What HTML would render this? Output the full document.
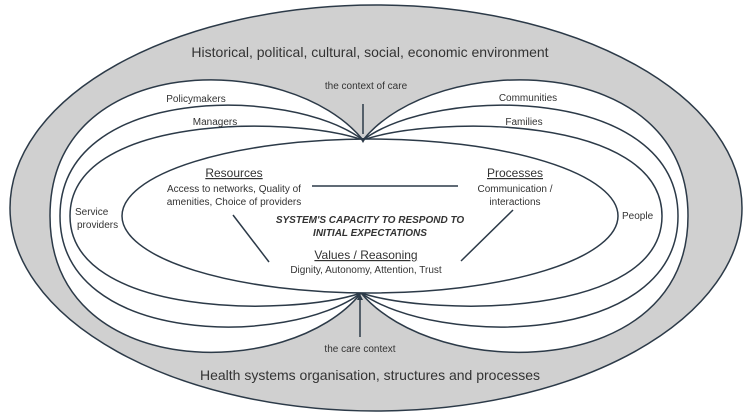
<!DOCTYPE html>
<html><head><meta charset="utf-8"><style>
html,body{margin:0;padding:0;background:#fff}
svg{display:block}
text{font-family:"Liberation Sans",sans-serif;fill:#333}
</style></head><body>
<svg width="748" height="414" viewBox="0 0 748 414" xmlns="http://www.w3.org/2000/svg">
<ellipse cx="376" cy="208" rx="366" ry="203" fill="#d0d0d0" stroke="#2c3a48" stroke-width="1.5"/>
<g fill="#fff" stroke="#2c3a48" stroke-width="1.5">
<path d="M363,140 C290,50 50,50 50,216 C50,382 290,382 361,293 Z"/>
<path d="M363,140 C436,50 688,50 688,216 C688,382 436,382 361,293 Z"/>
<path d="M363,140 C290,85 60,85 60,216 C60,347 290,347 361,293 Z"/>
<path d="M363,140 C436,85 678,85 678,216 C678,347 436,347 361,293 Z"/>
<path d="M363,140 C290,115 70,115 70,216 C70,317 290,317 361,293 Z"/>
<path d="M363,140 C436,115 662,115 662,216 C662,317 436,317 361,293 Z"/>
<ellipse cx="370" cy="216" rx="248" ry="77"/>
</g>
<g stroke="#2c3a48" stroke-width="1.5">
<line x1="312" y1="186" x2="458" y2="186"/>
<line x1="233" y1="215" x2="269" y2="262"/>
<line x1="513" y1="210" x2="461" y2="261"/>
<line x1="363" y1="104" x2="363" y2="134"/>
<line x1="360" y1="337" x2="360" y2="300"/>
</g>
<path d="M360,138 L366,138 L363,143 Z" fill="#2c3a48"/>
<path d="M357,300 L363,300 L360,294 Z" fill="#2c3a48"/>
<text x="370" y="57" font-size="14" text-anchor="middle">Historical, political, cultural, social, economic environment</text>
<text x="370" y="380" font-size="14" text-anchor="middle">Health systems organisation, structures and processes</text>
<text x="366" y="89" font-size="10" text-anchor="middle">the context of care</text>
<text x="360" y="352" font-size="10" text-anchor="middle">the care context</text>
<text x="196" y="102" font-size="10" text-anchor="middle">Policymakers</text>
<text x="215" y="125" font-size="10" text-anchor="middle">Managers</text>
<text x="528" y="101" font-size="10" text-anchor="middle">Communities</text>
<text x="524" y="125" font-size="10" text-anchor="middle">Families</text>
<text x="75" y="215" font-size="10">Service</text>
<text x="77" y="228" font-size="10">providers</text>
<text x="622" y="219" font-size="10">People</text>
<text x="234" y="177" font-size="12" text-anchor="middle" text-decoration="underline">Resources</text>
<text x="234" y="192" font-size="10" text-anchor="middle">Access to networks, Quality of</text>
<text x="234" y="205" font-size="10" text-anchor="middle">amenities, Choice of providers</text>
<text x="515" y="177" font-size="12" text-anchor="middle" text-decoration="underline">Processes</text>
<text x="515" y="192" font-size="10" text-anchor="middle">Communication /</text>
<text x="515" y="205" font-size="10" text-anchor="middle">interactions</text>
<text x="370" y="223" font-size="10" font-weight="bold" font-style="italic" text-anchor="middle">SYSTEM'S CAPACITY TO RESPOND TO</text>
<text x="370" y="236" font-size="10" font-weight="bold" font-style="italic" text-anchor="middle">INITIAL EXPECTATIONS</text>
<text x="366" y="259" font-size="12" text-anchor="middle" text-decoration="underline">Values / Reasoning</text>
<text x="366" y="273" font-size="10" text-anchor="middle">Dignity, Autonomy, Attention, Trust</text>
</svg>
</body></html>
